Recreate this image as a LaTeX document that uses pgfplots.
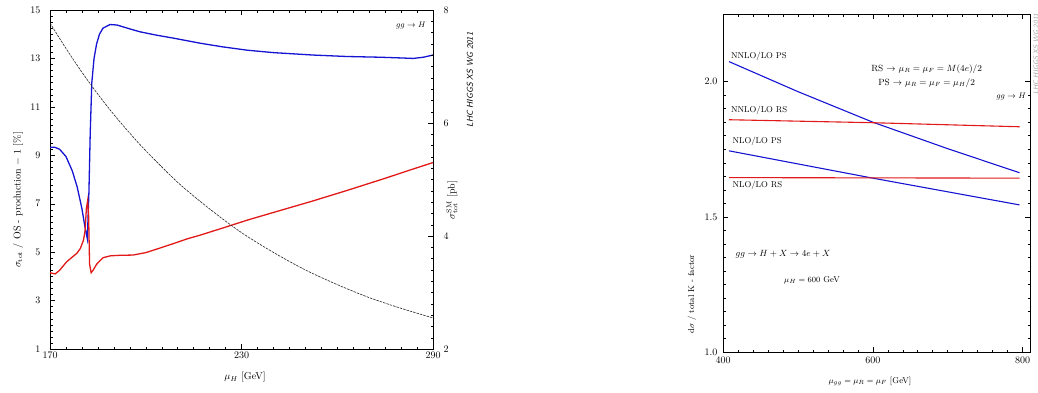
\documentclass[border=0pt]{standalone}
\usepackage{pgfplots}
\usepackage{pgfplotstable}
\pgfplotsset{compat=1.18}
\definecolor{cblue}{RGB}{20,20,210}
\definecolor{cred}{RGB}{225,25,25}

\pgfplotstableread{
x y
170 9.33
171.5 9.33
173 9.25
175 8.95
177 8.35
178.5 7.7
180 6.8
181 6.0
181.7 5.55
182.2 7.5
182.6 9.9
183.1 12.0
183.8 13.0
184.6 13.6
185.5 14.0
186.6 14.25
188.8 14.4
191 14.38
195 14.22
198.2 14.1
203 13.97
208.6 13.84
217 13.63
224 13.48
231.8 13.34
240 13.24
252.4 13.14
263 13.08
273.4 13.05
280 13.02
283.8 13.0
287 13.05
290 13.14
}\blueleft

\pgfplotstableread{
x y
170 4.15
171.6 4.1
173 4.25
175.2 4.6
177 4.8
178.4 4.95
179.5 5.15
180.5 5.5
181 5.9
181.4 6.8
181.8 7.13
182.1 6.5
182.4 4.5
182.9 4.15
183.5 4.25
184.6 4.5
186.6 4.77
189 4.85
192 4.87
196 4.88
200 4.98
204 5.15
208.6 5.35
213 5.55
217 5.7
224.2 6.0
232 6.33
242.1 6.72
252 7.1
263.1 7.55
275 8.05
283 8.4
290 8.7
}\redleft

\pgfplotstableread{
x y
170 7.77
175 7.32
180 6.90
185 6.51
190 6.15
195 5.82
200 5.51
210 4.95
220 4.48
230 4.06
240 3.71
250 3.40
260 3.14
270 2.91
280 2.72
290 2.55
}\blackright

\pgfplotstableread{
x y
408 2.074
500 1.963
600 1.850
700 1.752
796 1.663
}\nnlops
\pgfplotstableread{
x y
408 1.859
600 1.848
796 1.833
}\nnlors
\pgfplotstableread{
x y
408 1.744
600 1.643
796 1.544
}\nlops
\pgfplotstableread{
x y
408 1.645
600 1.644
796 1.643
}\nlors

\begin{document}
\begin{tikzpicture}[font=\fontsize{10}{12}\selectfont]
\useasboundingbox (0,0) rectangle (1038pt,-392pt);

% ---------------- left panel ----------------
\begin{axis}[
  at={(50pt,-349pt)}, anchor=south west, scale only axis,
  width=383pt, height=339pt,
  xmin=170, xmax=290, ymin=1, ymax=15,
  xtick={170,230,290}, ytick={1,3,...,15},
  minor x tick num=11, minor y tick num=7,
  ytick pos=left,
  tick style={black, thin}, major tick length=5pt, minor tick length=2.5pt,
  yticklabel style={xshift=-6pt},
  clip=true,
]
\addplot[cblue, line width=1.3pt] table[x=x,y=y] {\blueleft};
\addplot[cred, line width=1.3pt] table[x=x,y=y] {\redleft};
\node[anchor=north east, font=\fontsize{8.5}{10}\selectfont] at (rel axis cs:0.99,0.975) {$gg\to H$};
\end{axis}
\begin{axis}[
  at={(50pt,-349pt)}, anchor=south west, scale only axis,
  width=383pt, height=339pt,
  xmin=170, xmax=290, ymin=2, ymax=8,
  axis x line=none, axis y line*=right,
  ytick={2,4,6,8}, minor y tick num=9,
  tick style={black, thin}, major tick length=5pt, minor tick length=2.5pt,
  yticklabel style={xshift=7pt},
]
\addplot[black!85, smooth, dash pattern=on 2.5pt off 1pt, line width=0.6pt] table[x=x,y=y] {\blackright};
\end{axis}
\node at (245pt,-377pt) {$\mu_{H}$ [GeV]};
\node[rotate=90] at (18pt,-200pt) {$\sigma_{\rm tot}$ / OS - production $-$ 1 [\%]};
\node[rotate=90] at (452pt,-200pt) {$\sigma^{\rm SM}_{\rm tot}$ [pb]};
\node[rotate=90, font=\fontsize{8.5}{10}\sffamily\itshape] at (470pt,-80pt) {LHC HIGGS XS WG 2011};

% ---------------- right panel ----------------
\begin{axis}[
  at={(723pt,-352pt)}, anchor=south west, scale only axis,
  width=307pt, height=338pt,
  xmin=400, xmax=810, ymin=1, ymax=2.25,
  xtick={400,600,800}, ytick={1,1.5,2},
  yticklabels={1.0,1.5,2.0},
  minor x tick num=9, minor y tick num=9,
  tick style={black, thin}, major tick length=5pt, minor tick length=2.5pt,
  yticklabel style={xshift=-2pt},
  xticklabel style={yshift=-2pt},
]
\addplot[cblue, line width=1.1pt] table[x=x,y=y] {\nnlops};
\addplot[cred, line width=1.1pt] table[x=x,y=y] {\nnlors};
\addplot[cblue, line width=1.1pt] table[x=x,y=y] {\nlops};
\addplot[cred, line width=1.1pt] table[x=x,y=y] {\nlors};
\begin{scope}[font=\fontsize{8.5}{10}\selectfont]
\node[anchor=west] at (axis cs:406,2.095) {NNLO/LO PS};
\node[anchor=west] at (axis cs:406,1.893) {NNLO/LO RS};
\node[anchor=west] at (axis cs:408,1.778) {NLO/LO PS};
\node[anchor=west] at (axis cs:408,1.615) {NLO/LO RS};
\node[font=\fontsize{9}{10}\selectfont] at (axis cs:672,2.045) {RS $\to$ $\mu_R=\mu_F=M(4e)/2$};
\node[font=\fontsize{9}{10}\selectfont] at (axis cs:672,1.995) {PS $\to$ $\mu_R=\mu_F=\mu_H/2$};
\node[anchor=east] at (rel axis cs:0.998,0.755) {$gg\to H$};
\node[anchor=west, font=\fontsize{9.5}{11}\selectfont] at (axis cs:412,1.36) {$gg\to H+X\to 4e+X$};
\node[anchor=west] at (axis cs:477,1.267) {$\mu_H = 600$ GeV};
\end{scope}
\end{axis}
\node[font=\fontsize{8.5}{10}\selectfont] at (870pt,-381pt) {$\mu_{gg} = \mu_{R} = \mu_{F}$ [GeV]};
\node[rotate=90, font=\fontsize{8.5}{10}\selectfont] at (692pt,-294pt) {d$\sigma$ / total K - factor};
\node[rotate=90, anchor=east, text=black!35, font=\fontsize{7}{8}\sffamily\itshape] at (1036pt,-10pt) {LHC HIGGS XS WG 2011};
\end{tikzpicture}
\end{document}
